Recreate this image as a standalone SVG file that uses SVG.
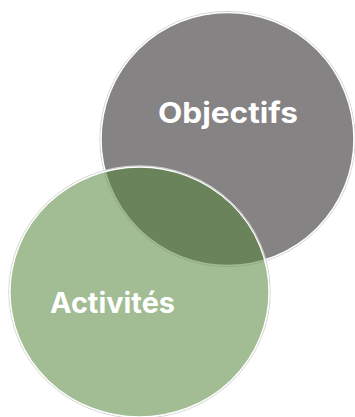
<svg xmlns="http://www.w3.org/2000/svg" width="355" height="417" viewBox="0 0 355 417">
  <style>
    .label { font-family: Inter, "Noto Sans", "Liberation Sans", sans-serif; font-weight: 700; font-size: 29px; fill: #ffffff; text-anchor: middle; }
    .halo { fill: none; stroke: #d4d4d4; stroke-width: 1; }
    .edge { stroke: #ffffff; stroke-width: 1.3; }
  </style>
  <rect width="355" height="417" fill="#ffffff"/>
  <g id="objectifs">
    <circle class="halo" cx="227.5" cy="139" r="127.6"/>
    <circle class="edge" cx="227.5" cy="139" r="126.4" fill="#858384"/>
  </g>
  <g id="activites">
    <ellipse class="halo" cx="139.5" cy="292" rx="130.7" ry="126.2"/>
    <ellipse class="edge" cx="139.5" cy="292" rx="129.5" ry="125" fill="#538338" fill-opacity="0.54"/>
  </g>
  <g id="labels">
    <text class="label" x="228" y="123.3" textLength="140" lengthAdjust="spacingAndGlyphs">Objectifs</text>
    <text class="label" x="112.5" y="313.3" textLength="125" lengthAdjust="spacingAndGlyphs">Activités</text>
  </g>
  <g id="connectors"></g>
</svg>
